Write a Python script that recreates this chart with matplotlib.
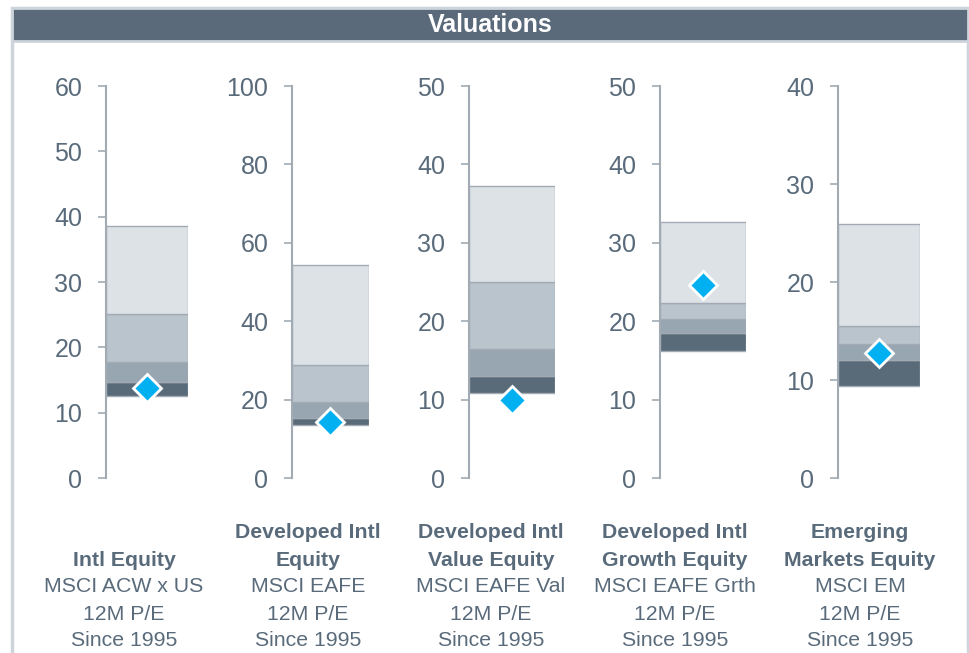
import matplotlib.pyplot as plt
from matplotlib.patches import Rectangle

plt.rcParams['font.family'] = ['Liberation Sans', 'DejaVu Sans']

# bucket boundaries for each index (bottom -> top), and current value
low = [12.6, 13.6, 10.9, 16.2, 9.4]
b1 = [14.7, 15.4, 13.0, 18.5, 12.0]
b2 = [17.8, 19.5, 16.4, 20.3, 13.7]
b3 = [25.1, 28.7, 25.0, 22.3, 15.5]
high = [38.6, 54.4, 37.3, 32.6, 25.9]
current = [13.7, 14.4, 10.0, 24.6, 12.8]

ymax = [60, 100, 50, 50, 40]
ystep = [10, 20, 10, 10, 10]

titles = [['Intl Equity'],
          ['Developed Intl', 'Equity'],
          ['Developed Intl', 'Value Equity'],
          ['Developed Intl', 'Growth Equity'],
          ['Emerging', 'Markets Equity']]
subtitles = [['MSCI ACW x US', '12M P/E', 'Since 1995'],
             ['MSCI EAFE', '12M P/E', 'Since 1995'],
             ['MSCI EAFE Val', '12M P/E', 'Since 1995'],
             ['MSCI EAFE Grth', '12M P/E', 'Since 1995'],
             ['MSCI EM', '12M P/E', 'Since 1995']]

seg_colors = ['#596a78', '#97a6b1', '#bac4cc', '#dde2e6']
text_color = '#596b7b'
spine_color = '#a2abb4'

W, H = 970, 653
fig = plt.figure(figsize=(W / 100, H / 100), dpi=100)

# frame + title bar
fig.patches.append(Rectangle((12 / W, -0.1), 956 / W, 1.1 - 8 / H, transform=fig.transFigure,
                             facecolor='none', edgecolor='#cdd4db', linewidth=2.5, zorder=-1))
fig.patches.append(Rectangle((12 / W, 1 - 41 / H), 956 / W, 33 / H, transform=fig.transFigure,
                             facecolor='#5a6a7a', edgecolor='#cdd4db', linewidth=2, zorder=-1))
fig.text(490 / W, 1 - 24.5 / H, 'Valuations', color='white', fontsize=18, fontweight='bold',
         ha='center', va='center')

# axes placement in pixels: spine x, bar width
ax_left = [106, 292, 469, 660, 838]
ax_width = [82, 77, 86, 86, 82]
label_x = [124, 308, 491, 675, 860]
y_top, y_bot = 86, 478

for i in range(5):
    ax = fig.add_axes([ax_left[i] / W, 1 - y_bot / H, ax_width[i] / W, (y_bot - y_top) / H])
    bounds = [low[i], b1[i], b2[i], b3[i], high[i]]
    for k in range(4):
        ax.bar(0.5, bounds[k + 1] - bounds[k], bottom=bounds[k], width=1.0,
               color=seg_colors[k], edgecolor=spine_color, linewidth=1.0, zorder=2)
    ax.plot(0.5, current[i], marker='D', markersize=14, color='#00b0f0',
            markeredgecolor='white', markeredgewidth=2, zorder=4, clip_on=False)
    ax.set_xlim(0, 1)
    ax.set_ylim(0, ymax[i])
    ax.set_yticks(range(0, ymax[i] + 1, ystep[i]))
    ax.set_xticks([])
    for s in ['top', 'right', 'bottom']:
        ax.spines[s].set_visible(False)
    ax.spines['left'].set_color(spine_color)
    ax.spines['left'].set_linewidth(1.5)
    ax.tick_params(axis='y', length=6, width=1.2, color=spine_color, pad=11,
                   labelsize=18, labelcolor=text_color)
    ax.patch.set_visible(False)

    lines = [(t, 'bold') for t in titles[i]] + [(t, 'normal') for t in subtitles[i]]
    n = len(lines)
    for j, (t, w) in enumerate(lines):
        y = 641 - (n - 1 - j) * 27
        fig.text(label_x[i] / W, 1 - y / H, t, color=text_color, fontsize=15.3, fontweight=w,
                 ha='center', va='center')

fig.savefig('out.png', dpi=100)
